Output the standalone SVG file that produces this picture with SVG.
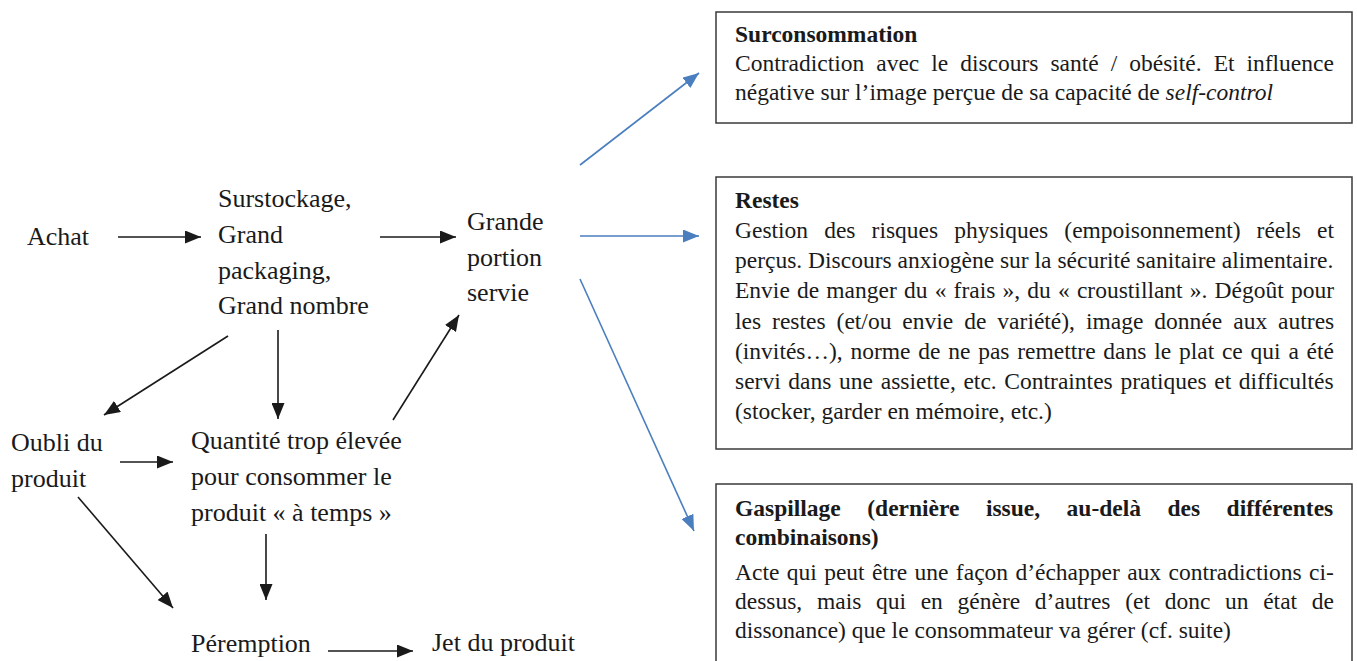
<svg xmlns="http://www.w3.org/2000/svg" width="1357" height="661" viewBox="0 0 1357 661">
<style>
.t{font-family:"Liberation Serif","Times New Roman",serif;font-size:26px;fill:#1a1a1a}
.b{font-family:"Liberation Serif","Times New Roman",serif;font-size:23.5px;fill:#1a1a1a}
.h{font-weight:bold}
.box{fill:#fff;stroke:#3a3a3a;stroke-width:1.5}
.k{stroke:#1a1a1a;stroke-width:1.6;fill:none}
.u{stroke:#4a7ebf;stroke-width:1.6;fill:none}
</style>
<defs>
<marker id="ak" markerUnits="userSpaceOnUse" markerWidth="17" markerHeight="13" refX="16" refY="6.5" orient="auto"><path d="M0,0 L16,6.5 L0,13 Z" fill="#1a1a1a"/></marker>
<marker id="ab" markerUnits="userSpaceOnUse" markerWidth="17" markerHeight="13" refX="16" refY="6.5" orient="auto"><path d="M0,0 L16,6.5 L0,13 Z" fill="#4a7ebf"/></marker>
</defs>
<rect width="1357" height="661" fill="#fff"/>

<g id="connectors">
<line class="k" x1="118" y1="237" x2="201" y2="237" marker-end="url(#ak)"/>
<line class="k" x1="380" y1="237" x2="456" y2="237" marker-end="url(#ak)"/>
<line class="k" x1="228" y1="336" x2="104" y2="415" marker-end="url(#ak)"/>
<line class="k" x1="278" y1="330" x2="278" y2="419" marker-end="url(#ak)"/>
<line class="k" x1="393" y1="420" x2="459" y2="315" marker-end="url(#ak)"/>
<line class="k" x1="120" y1="462" x2="173" y2="462" marker-end="url(#ak)"/>
<line class="k" x1="78" y1="497" x2="173" y2="608" marker-end="url(#ak)"/>
<line class="k" x1="266" y1="534" x2="266" y2="600" marker-end="url(#ak)"/>
<line class="k" x1="328" y1="651" x2="413" y2="651" marker-end="url(#ak)"/>
<line class="u" x1="580" y1="165" x2="699" y2="73" marker-end="url(#ab)"/>
<line class="u" x1="580" y1="236" x2="699" y2="236" marker-end="url(#ab)"/>
<line class="u" x1="580" y1="279" x2="694" y2="531" marker-end="url(#ab)"/>
</g>

<g id="achat"><text class="t" x="27" y="245">Achat</text></g>
<g id="surstockage"><text class="t" x="218" y="207">Surstockage,<tspan x="218" y="243">Grand</tspan><tspan x="218" y="279">packaging,</tspan><tspan x="218" y="314">Grand nombre</tspan></text></g>
<g id="grande-portion"><text class="t" x="467" y="230">Grande<tspan x="467" y="266">portion</tspan><tspan x="467" y="301">servie</tspan></text></g>
<g id="oubli"><text class="t" x="11" y="451">Oubli du<tspan x="11" y="487">produit</tspan></text></g>
<g id="quantite"><text class="t" x="191" y="449">Quantité trop élevée<tspan x="191" y="485">pour consommer le</tspan><tspan x="191" y="521">produit « à temps »</tspan></text></g>
<g id="peremption"><text class="t" x="191" y="652">Péremption</text></g>
<g id="jet"><text class="t" x="432" y="651">Jet du produit</text></g>

<g id="surconsommation">
<rect class="box" x="716" y="12" width="636" height="111"/>
<text class="b h" x="735" y="42">Surconsommation</text>
<text class="b" x="735" y="71" word-spacing="6.1">Contradiction avec le discours santé / obésité. Et influence</text>
<text class="b" x="735" y="100">négative sur l’image perçue de sa capacité de <tspan font-style="italic">self-control</tspan></text>
</g>

<g id="restes">
<rect class="box" x="716" y="177" width="636" height="272"/>
<text class="b h" x="735" y="208">Restes</text>
<text class="b" x="735" y="238" word-spacing="10.2">Gestion des risques physiques (empoisonnement) réels et</text>
<text class="b" x="735" y="268">perçus. Discours anxiogène sur la sécurité sanitaire alimentaire.</text>
<text class="b" x="735" y="298" word-spacing="1.3">Envie de manger du « frais », du « croustillant ». Dégoût pour</text>
<text class="b" x="735" y="328.5" word-spacing="5.1">les restes (et/ou envie de variété), image donnée aux autres</text>
<text class="b" x="735" y="358.5" word-spacing="1.9">(invités…), norme de ne pas remettre dans le plat ce qui a été</text>
<text class="b" x="735" y="388.5" word-spacing="1.8">servi dans une assiette, etc. Contraintes pratiques et difficultés</text>
<text class="b" x="735" y="418.5">(stocker, garder en mémoire, etc.)</text>
</g>

<g id="gaspillage">
<rect class="box" x="716" y="484" width="636" height="200"/>
<text class="b h" x="735" y="516" word-spacing="20.6">Gaspillage (dernière issue, au-delà des différentes</text>
<text class="b h" x="735" y="545">combinaisons)</text>
<text class="b" x="735" y="579.5" word-spacing="1.5">Acte qui peut être une façon d’échapper aux contradictions ci-</text>
<text class="b" x="735" y="609" word-spacing="8.8">dessus, mais qui en génère d’autres (et donc un état de</text>
<text class="b" x="735" y="638">dissonance) que le consommateur va gérer (cf. suite)</text>
</g>
</svg>
